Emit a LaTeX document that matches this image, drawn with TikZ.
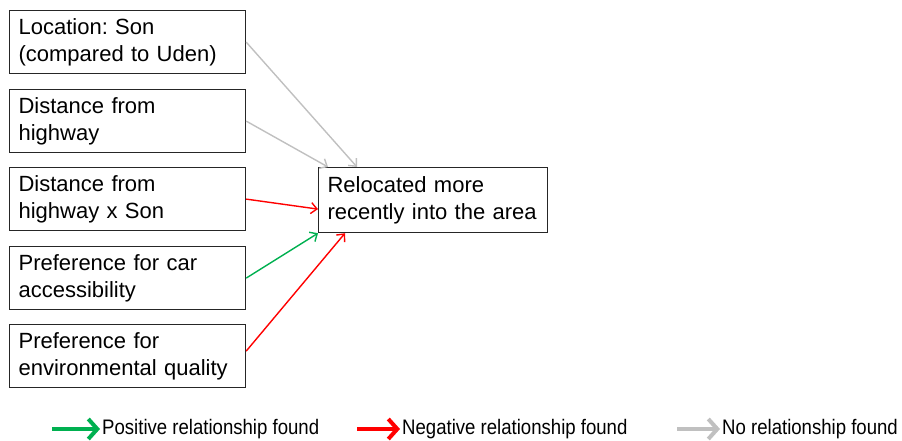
\documentclass[tikz,border=0pt]{standalone}
\usepackage{fontspec}
\setmainfont{Liberation Sans}
\newfontfamily\narrowfont{Liberation Sans}[FakeStretch=0.885]
\usetikzlibrary{arrows.meta,calc}
\frenchspacing
\definecolor{posgreen}{HTML}{00B050}
\definecolor{negred}{HTML}{FF0000}
\definecolor{nonegray}{HTML}{C0C0C0}
\definecolor{boxline}{HTML}{262626}
\tikzset{
  factor/.style={draw=boxline, line width=1.2pt, anchor=north west,
    minimum width=236pt, minimum height=63pt, text width=218pt,
    inner xsep=9pt, inner ysep=0pt, align=left,
    font=\fontsize{22}{27.5}\selectfont},
  outcome/.style={factor, minimum width=229pt, minimum height=65pt, text width=211pt},
  link/.style={line width=1.4pt, -{Straight Barb[length=6pt,width=11pt,line width=1.4pt]}},
  legarrow/.style={line width=4pt, -{Straight Barb[length=9pt,width=20pt,line width=4pt]}},
  legtext/.style={anchor=west, inner sep=2pt, font=\narrowfont\fontsize{21}{25}\selectfont}
}
\begin{document}
\begin{tikzpicture}[x=1pt,y=-1pt]
\useasboundingbox (0,0) rectangle (902,440);

% explanatory factors
\node[factor] (loc)  at (9,10)  {Location: Son\\(compared to Uden)};
\node[factor] (dist) at (9,89)  {Distance from\\highway};
\node[factor] (dson) at (9,167) {Distance from\\highway x Son};
\node[factor] (car)  at (9,246) {Preference for car\\accessibility};
\node[factor] (env)  at (9,324) {Preference for\\environmental quality};

% outcome
\node[outcome] (out) at (318,167) {Relocated more\\recently into the area};

% effects
\draw[link, nonegray] (loc.east)  -- ($(out.north west)+(39,0)$);
\draw[link, nonegray] (dist.east) -- ($(out.north west)+(10,0)$);
\draw[link, negred]   (dson.east) -- ($(out.west)+(0,9)$);
\draw[link, posgreen] (car.east)  -- (out.south west);
\draw[link, negred]   ($(env.east)+(0,-5)$) -- ($(out.south west)+(27,0)$);

% legend
\coordinate (pa) at (52,429);  \coordinate (pb) at (100,429);
\coordinate (na) at (357,429); \coordinate (nb) at (400,429);
\coordinate (za) at (677,429); \coordinate (zb) at (720,429);
\draw[legarrow, posgreen] (pa) -- (pb);
\draw[legarrow, negred]   (na) -- (nb);
\draw[legarrow, nonegray] (za) -- (zb);
\node[legtext] (lp) at (pb) {Positive relationship found};
\node[legtext] (ln) at (nb) {Negative relationship found};
\node[legtext] (lz) at (zb) {No relationship found};
\end{tikzpicture}
\end{document}
